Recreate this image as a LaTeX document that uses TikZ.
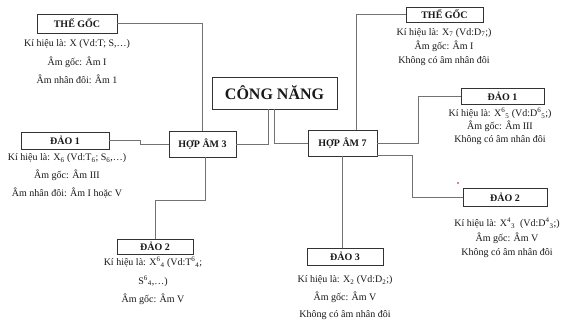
\documentclass[tikz,border=0pt]{standalone}
\usepackage{fontspec}
\setmainfont{Liberation Serif}
\newcommand\supsb[2]{\textsuperscript{#1}\textsubscript{#2}}
\begin{document}
\begin{tikzpicture}[x=1pt,y=-1pt,
  lbox/.style={draw=black!80, line width=0.9pt, fill=white, inner sep=0pt,
    font=\bfseries\fontsize{10}{12}\selectfont, text=black!90},
  txt/.style={align=center, inner sep=0pt, text=black!90},
  conn/.style={draw=black!55, line width=0.8pt}]
\useasboundingbox (0,0) rectangle (562,323);
\fill[white] (0,0) rectangle (562,323);

% boxes
\node[lbox, minimum width=80pt, minimum height=19pt] (thegocL) at (77,23.5) {THẾ GỐC};
\node[lbox, minimum width=88pt, minimum height=17pt] (dao1L) at (65,140.5) {ĐẢO 1};
\node[lbox, minimum width=76pt, minimum height=15pt] (dao2L) at (155,246.5) {ĐẢO 2};
\node[lbox, minimum width=67pt, minimum height=26pt] (hop3) at (202.5,144) {HỢP ÂM 3};
\node[lbox, minimum width=125pt, minimum height=32pt, font=\bfseries\fontsize{16}{18}\selectfont] (congnang) at (274.5,93) {CÔNG NĂNG};
\node[lbox, minimum width=69pt, minimum height=26pt] (hop7) at (342.5,143) {HỢP ÂM 7};
\node[lbox, minimum width=77pt, minimum height=15pt] (thegocR) at (444.5,14.5) {THẾ GỐC};
\node[lbox, minimum width=83pt, minimum height=16pt] (dao1R) at (502.5,96) {ĐẢO 1};
\node[lbox, minimum width=84pt, minimum height=18pt] (dao2R) at (505,197) {ĐẢO 2};
\node[lbox, minimum width=76pt, minimum height=17pt] (dao3) at (345,256.5) {ĐẢO 3};

% text blocks
\node[txt, font=\fontsize{10}{18.5}\selectfont] (tThegocL) at (77,62)
  {Kí hiệu là: X (Vd:T; S,…)\\Âm gốc: Âm I\\Âm nhân đôi: Âm 1};
\node[txt, font=\fontsize{10}{18}\selectfont] (tDao1L) at (67,176)
  {Kí hiệu là: X\textsubscript{6} (Vd:T\textsubscript{6}; S\textsubscript{6},…)\\Âm gốc: Âm III\\Âm nhân đôi: Âm I hoặc V};
\node[txt, font=\fontsize{10}{18.5}\selectfont] (tDao2L) at (153,281)
  {Kí hiệu là: X\supsb{6}{4} (Vd:T\supsb{6}{4};\\S\supsb{6}{4},…)\\Âm gốc: Âm V};
\node[txt, font=\fontsize{10}{14}\selectfont] (tThegocR) at (444,47)
  {Kí hiệu là: X\textsubscript{7} (Vd:D\textsubscript{7};)\\Âm gốc: Âm I\\Không có âm nhân đôi};
\node[txt, font=\fontsize{10}{13}\selectfont] (tDao1R) at (500,126.5)
  {Kí hiệu là: X\supsb{6}{5} (Vd:D\supsb{6}{5};)\\Âm gốc: Âm III\\Không có âm nhân đôi};
\node[txt, font=\fontsize{10}{14.5}\selectfont] (tDao2R) at (507,238)
  {Kí hiệu là: X\supsb{4}{3}\ \ (Vd:D\supsb{4}{3};)\\Âm gốc: Âm V\\Không có âm nhân đôi};
\node[txt, font=\fontsize{10}{17.5}\selectfont] (tDao3) at (345,298)
  {Kí hiệu là: X\textsubscript{2} (Vd:D\textsubscript{2};)\\Âm gốc: Âm V\\Không có âm nhân đôi};

% connectors
\draw[conn] (thegocL.east) -| (hop3.north);
\draw[conn] (dao1L.east) -- ++(31,0) |- (hop3.west);
\draw[conn] ([xshift=2.5pt]hop3.south) -- ++(0,43) -| (dao2L.north);
\draw[conn] ([xshift=-6.5pt]congnang.south) |- (hop3.east);
\draw[conn] (congnang.south) |- (hop7.west);
\draw[conn] ([xshift=13.5pt]hop7.north) |- (thegocR.west);
\draw[conn] (hop7.east) -- ++(41,0) |- (dao1R.west);
\draw[conn] ([yshift=1.5pt]hop7.south east) -- ++(35,0) |- (dao2R.west);
\draw[conn] (hop7.south) -- (hop7.south |- dao3.north);

% small red mark
\fill[red!80!black] (458,183) circle (0.8pt);
\end{tikzpicture}
\end{document}
